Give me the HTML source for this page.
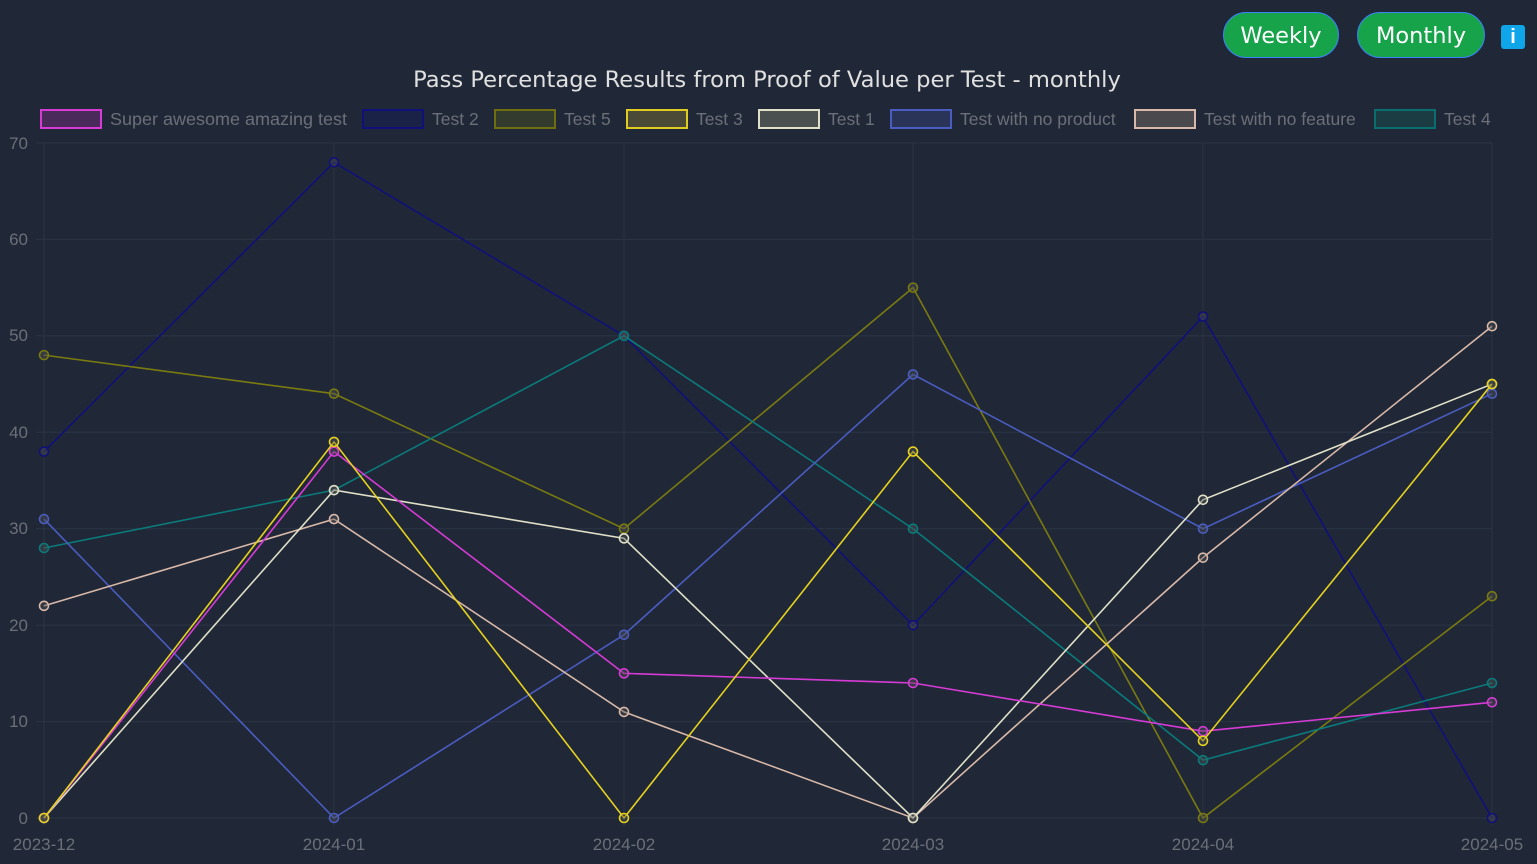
<!DOCTYPE html>
<html><head><meta charset="utf-8"><style>
body{margin:0;width:1537px;height:864px;background:#202837;overflow:hidden;font-family:"Liberation Sans",sans-serif}
.btn{position:absolute;top:12px;height:46px;border-radius:24px;background:#17a34a;border:1px solid #3b82f6;color:#fff;font-size:22.5px;line-height:46px;text-align:center;font-family:"DejaVu Sans","Liberation Sans",sans-serif;box-sizing:border-box}
.info{position:absolute;left:1501px;top:25px;width:24px;height:24px;background:#0ea5e9;border-radius:3px;color:#fff;font-weight:bold;text-align:center;line-height:24px;font-size:20px}
</style></head><body>
<div class="btn" style="left:1223px;width:116px">Weekly</div>
<div class="btn" style="left:1357px;width:128px">Monthly</div>
<div class="info">i</div>
<svg width="1537" height="864" style="position:absolute;left:0;top:0">
<text x="767" y="87" text-anchor="middle" fill="#e0e0e0" font-size="22.6" font-family="DejaVu Sans, Liberation Sans, sans-serif">Pass Percentage Results from Proof of Value per Test - monthly</text>
<g id="grid" stroke="#2b3445" stroke-width="1"></g>
<g font-size="17" fill="#6b6f78" id="labels">
<text x="28" y="824" text-anchor="end">0</text>
<text x="28" y="727" text-anchor="end">10</text>
<text x="28" y="631" text-anchor="end">20</text>
<text x="28" y="534" text-anchor="end">30</text>
<text x="28" y="438" text-anchor="end">40</text>
<text x="28" y="341" text-anchor="end">50</text>
<text x="28" y="245" text-anchor="end">60</text>
<text x="28" y="149" text-anchor="end">70</text>
<text x="44" y="850" text-anchor="middle">2023-12</text>
<text x="334" y="850" text-anchor="middle">2024-01</text>
<text x="624" y="850" text-anchor="middle">2024-02</text>
<text x="913" y="850" text-anchor="middle">2024-03</text>
<text x="1203" y="850" text-anchor="middle">2024-04</text>
<text x="1492" y="850" text-anchor="middle">2024-05</text>
</g>
<g font-size="17.5" fill="#6b6f78" stroke-width="2">
<rect x="41" y="110" width="60" height="18" stroke="#d63bd6" fill="#4a2a5a"/><text x="110" y="125" textLength="237" lengthAdjust="spacingAndGlyphs">Super awesome amazing test</text>
<rect x="363" y="110" width="60" height="18" stroke="#10107a" fill="#1a2248"/><text x="432" y="125">Test 2</text>
<rect x="495" y="110" width="60" height="18" stroke="#6e6e10" fill="#333a2e"/><text x="564" y="125">Test 5</text>
<rect x="627" y="110" width="60" height="18" stroke="#e0cc20" fill="#4a4a36"/><text x="696" y="125">Test 3</text>
<rect x="759" y="110" width="60" height="18" stroke="#e0e0c8" fill="#4a5050"/><text x="828" y="125">Test 1</text>
<rect x="891" y="110" width="60" height="18" stroke="#4a5cc0" fill="#2a3458"/><text x="960" y="125">Test with no product</text>
<rect x="1135" y="110" width="60" height="18" stroke="#d8b8a8" fill="#4a4a4e"/><text x="1204" y="125">Test with no feature</text>
<rect x="1375" y="110" width="60" height="18" stroke="#0a6e70" fill="#1c3c44"/><text x="1444" y="125">Test 4</text>
</g>
<g id="series" fill="none" stroke-width="1.6"></g>
</svg>
<script>
var xs=[44,334,624,913,1203,1492];function Y(v){return 818-v*9.643}
var g=document.getElementById('grid'),h='';
for(var i=0;i<=7;i++)h+='<line x1="36" x2="1492" y1="'+Y(i*10)+'" y2="'+Y(i*10)+'"/>';
xs.forEach(function(x){h+='<line x1="'+x+'" x2="'+x+'" y1="143" y2="826"/>'});g.innerHTML=h;
var S=[["#10107a",[38,68,50,20,52,0]],["#7a7a10",[48,44,30,55,0,23]],["#0a7a7a",[28,34,50,30,6,14]],["#4a5cc0",[31,0,19,46,30,44]],["#d8b8a8",[22,31,11,0,27,51]],["#e0e0c8",[0,34,29,0,33,45]],["#d63bd6",[0,38,15,14,9,12]],["#e6d21e",[0,39,0,38,8,45]]];
var o='';S.forEach(function(s){var p=s[1].map(function(v,i){return xs[i]+','+Y(v)}).join(' ');o+='<polyline stroke="'+s[0]+'" points="'+p+'"/>';s[1].forEach(function(v,i){o+='<circle cx="'+xs[i]+'" cy="'+Y(v)+'" r="4.5" stroke="'+s[0]+'" fill="rgba(80,80,80,0.4)"/>'})});
document.getElementById('series').innerHTML=o;
</script>
</body></html>
